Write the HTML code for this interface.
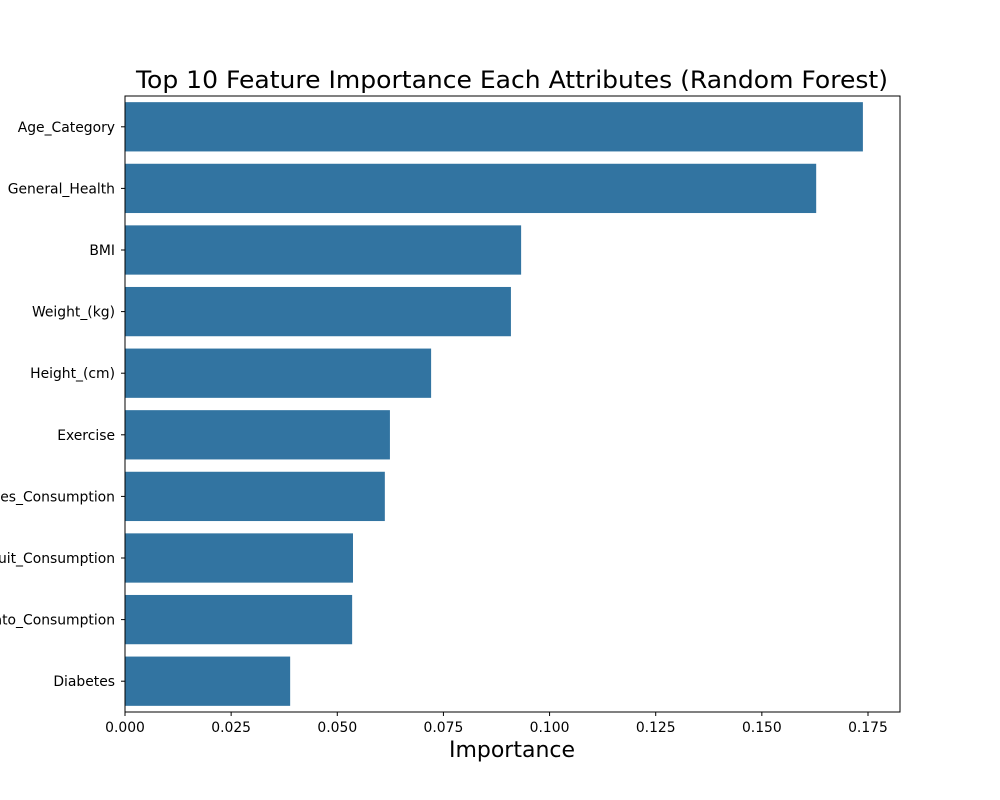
<!DOCTYPE html>
<html><head><meta charset="utf-8"><style>
body{margin:0;background:#fff;}
svg{display:block;font-family:"DejaVu Sans","Liberation Sans",sans-serif;}
</style></head><body>
<svg id="chart" width="1000" height="800">
<rect width="1000" height="800" fill="#fff"/>
<text x="512" y="88" text-anchor="middle" font-size="24" textLength="752" lengthAdjust="spacingAndGlyphs">Top 10 Feature Importance Each Attributes (Random Forest)</text>
<text x="512" y="757" text-anchor="middle" font-size="22">Importance</text>
<g id="bars"></g>
<g id="yticks"></g>
<g id="xticks"></g>
<rect x="125" y="96" width="775" height="616" fill="none" stroke="#000" stroke-width="1"/>
</svg>
<script>
const categories=["Age_Category","General_Health","BMI","Weight_(kg)","Height_(cm)","Exercise","Green_Vegetables_Consumption","Fruit_Consumption","FriedPotato_Consumption","Diabetes"];
const values=[0.1738,0.1628,0.0933,0.0909,0.0721,0.0624,0.0612,0.0537,0.0535,0.0389];
const xTicks=[0,0.025,0.05,0.075,0.1,0.125,0.15,0.175];
const xTickLabels=["0.000","0.025","0.050","0.075","0.100","0.125","0.150","0.175"];
const L=125,R=900,T=96,B=712,XMAX=0.18254;
const NS="http://www.w3.org/2000/svg";
function x(v){return L+v/XMAX*(R-L);}
const band=(B-T)/categories.length;
function y(i){return T+band*i;}
function mk(t,a,p){const e=document.createElementNS(NS,t);for(const k in a)e.setAttribute(k,a[k]);p.appendChild(e);return e;}
const gb=document.getElementById('bars'),gy=document.getElementById('yticks'),gx=document.getElementById('xticks');
categories.forEach((c,i)=>{
  const r=mk('rect',{x:x(0),y:y(i)+band*0.1,width:x(values[i])-x(0),height:band*0.8,fill:'#3274a1'},gb);
  
  
  const cy=y(i)+band/2;
  mk('line',{x1:L-4,x2:L,y1:cy,y2:cy,stroke:'#000'},gy);
  const t=mk('text',{x:L-10,y:cy+5,'text-anchor':'end','font-size':'13.9'},gy);
  t.textContent=c;
  
  
});
xTicks.forEach((v,i)=>{
  mk('line',{x1:x(v),x2:x(v),y1:B,y2:B+4,stroke:'#000'},gx);
  const t=mk('text',{x:x(v),y:B+20,'text-anchor':'middle','font-size':'13.9'},gx);
  t.textContent=xTickLabels[i];
  
  
});
</script>
</body></html>
